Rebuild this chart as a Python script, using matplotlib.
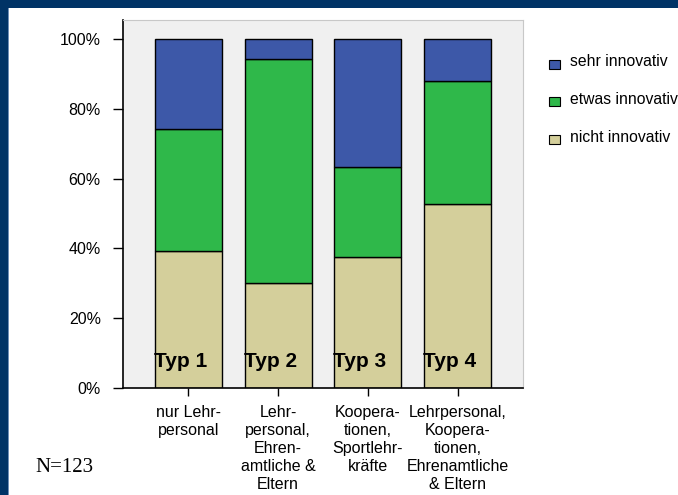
import matplotlib
matplotlib.use("Agg")
import matplotlib.pyplot as plt
from matplotlib.patches import Rectangle
import numpy as np

categories = ["nur Lehr-\npersonal",
              "Lehr-\npersonal,\nEhren-\namtliche &\nEltern",
              "Koopera-\ntionen,\nSportlehr-\nkräfte",
              "Lehrpersonal,\nKoopera-\ntionen,\nEhrenamtliche\n& Eltern"]
typ_labels = ["Typ 1", "Typ 2", "Typ 3", "Typ 4"]
nicht = [39.3, 30.2, 37.5, 52.6]
etwas = [34.8, 63.9, 25.9, 35.2]
sehr = [25.9, 5.9, 36.6, 12.2]
series_names = ["sehr innovativ", "etwas innovativ", "nicht innovativ"]
yticks = [0, 20, 40, 60, 80, 100]
ytick_labels = ["0%", "20%", "40%", "60%", "80%", "100%"]
note = "N=123"

c_sehr = "#3d58a8"
c_etwas = "#2fb84a"
c_nicht = "#d4cf9b"
border = "#003366"

plt.rcParams['font.family'] = ['Liberation Sans', 'DejaVu Sans']

fig = plt.figure(figsize=(6.78, 4.95), dpi=100)
fig.patch.set_facecolor("white")

# dark blue frame
fig.patches.append(Rectangle((0, 0), 8/678, 1, transform=fig.transFigure,
                             facecolor=border, edgecolor="none", zorder=0))
fig.patches.append(Rectangle((8/678, 0), 1.2/678, 1, transform=fig.transFigure,
                             facecolor="#6f8fb8", edgecolor="none", zorder=0))
fig.patches.append(Rectangle((0, 1 - 8/495), 1, 8/495, transform=fig.transFigure,
                             facecolor=border, edgecolor="none", zorder=0))

ax = fig.add_axes([123/678, 1 - 388/495, 400/678, 368/495])
ax.set_facecolor("#f0f0f0")
x = np.arange(len(categories))
w = 0.746
nicht_a = np.array(nicht)
etwas_a = np.array(etwas)
sehr_a = np.array(sehr)
ax.bar(x, nicht_a, w, color=c_nicht, edgecolor="black", linewidth=1.0, zorder=2)
ax.bar(x, etwas_a, w, bottom=nicht_a, color=c_etwas, edgecolor="black", linewidth=1.0, zorder=2)
ax.bar(x, sehr_a, w, bottom=nicht_a + etwas_a, color=c_sehr, edgecolor="black", linewidth=1.0, zorder=2)

for xi, t in zip(x, typ_labels):
    ax.text(xi - w/2 - 0.01, 7.6, t, ha="left", va="center", fontsize=15,
            fontweight="bold", color="black", zorder=3)

ax.set_xlim(-0.726, 3.728)
ax.set_ylim(0, 105.4)
ax.set_yticks(yticks)
ax.set_yticklabels(ytick_labels, fontsize=11.5)
ax.set_xticks(x)
ax.set_xticklabels(categories, fontsize=11.5, linespacing=1.26)
ax.tick_params(axis="y", direction="out", length=7, width=1, pad=9)
ax.tick_params(axis="x", direction="out", length=6, width=1, pad=6)
for s in ["top", "right"]:
    ax.spines[s].set_color("#c8c8c8")
for s in ["left", "bottom"]:
    ax.spines[s].set_color("black")
    ax.spines[s].set_linewidth(1.2)

# legend (manual, in figure pixels)
leg_y = [62, 99, 137]
leg_c = [c_sehr, c_etwas, c_nicht]
for yy, cc, name in zip(leg_y, leg_c, series_names):
    fig.patches.append(Rectangle((549/678, 1 - (yy + 6.5)/495), 11/678, 9/495,
                                 transform=fig.transFigure, facecolor=cc,
                                 edgecolor="black", linewidth=0.8))
    fig.text(570/678, 1 - yy/495, name, ha="left", va="center", fontsize=11.3)

fig.text(35/678, 1 - 468/495, note, ha="left", va="center", fontsize=15,
         family=["Liberation Serif", "DejaVu Serif"])

fig.savefig("out.png", dpi=100)
